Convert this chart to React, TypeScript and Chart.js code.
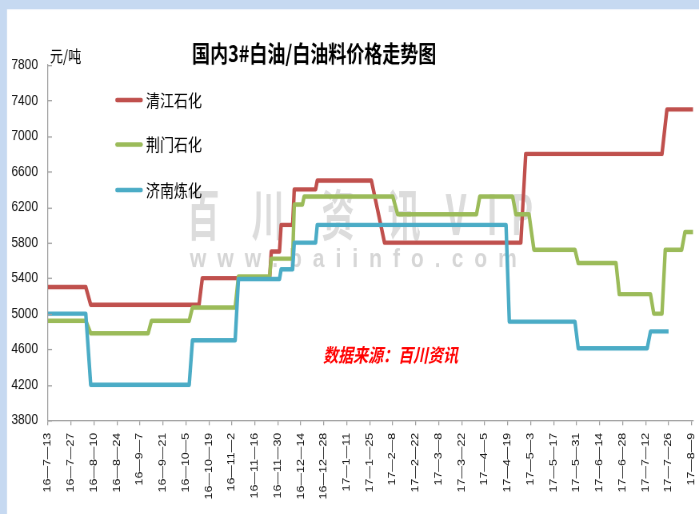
import React, { useEffect, useRef } from 'react';
import { Chart, registerables } from 'chart.js';

Chart.register(...registerables);

// ---------- data ----------
const tickLabels = [
  '16—7—13', '16—7—27', '16—8—10', '16—8—24', '16—9—7', '16—9—21', '16—10—5', '16—10—19',
  '16—11—2', '16—11—16', '16—11—30', '16—12—14', '16—12—28', '17—1—11', '17—1—25', '17—2—8',
  '17—2—22', '17—3—8', '17—3—22', '17—4—5', '17—4—19', '17—5—3', '17—5—17', '17—5—31',
  '17—6—14', '17—6—28', '17—7—12', '17—7—26', '17—8—9',
];

const seriesNames = ['清江石化', '荆门石化', '济南炼化'];
const seriesColors = ['#c0504d', '#9bbb59', '#4bacc6'];

const qingjiangDates = [
  '16-7-13', '16-8-5', '16-8-8', '16-10-13', '16-10-15', '16-11-25', '16-11-26', '16-12-1',
  '16-12-2', '16-12-9', '16-12-10', '16-12-23', '16-12-24', '17-1-26', '17-2-3', '17-4-27',
  '17-4-30', '17-7-22', '17-7-25', '17-8-10',
];
const qingjiangValues = [
  5300, 5300, 5100, 5100, 5400, 5400, 5700, 5700, 6000, 6000, 6400, 6400, 6500, 6500, 5800, 5800,
  6800, 6800, 7300, 7300,
];

const jingmenDates = [
  '16-7-13', '16-8-5', '16-8-8', '16-9-12', '16-9-14', '16-10-7', '16-10-9', '16-11-4',
  '16-11-6', '16-11-25', '16-11-26', '16-12-9', '16-12-10', '16-12-15', '16-12-16', '17-2-8',
  '17-2-11', '17-3-31', '17-4-2', '17-4-22', '17-4-24', '17-5-2', '17-5-5', '17-5-30',
  '17-6-1', '17-6-24', '17-6-26', '17-7-15', '17-7-17', '17-7-22', '17-7-24', '17-8-3',
  '17-8-5', '17-8-10',
];
const jingmenValues = [
  4920, 4920, 4780, 4780, 4920, 4920, 5070, 5070, 5420, 5420, 5620, 5620, 6230, 6230, 6320, 6320,
  6120, 6120, 6320, 6320, 6120, 6120, 5720, 5720, 5570, 5570, 5220, 5220, 5000, 5000, 5720, 5720,
  5920, 5920,
];

const jinanDates = [
  '16-7-13', '16-8-5', '16-8-8', '16-10-7', '16-10-9', '16-11-4', '16-11-6', '16-12-1',
  '16-12-2', '16-12-9', '16-12-10', '16-12-23', '16-12-24', '17-4-18', '17-4-20', '17-5-30',
  '17-6-1', '17-7-13', '17-7-15', '17-7-26',
];
const jinanValues = [
  5000, 5000, 4200, 4200, 4700, 4700, 5390, 5390, 5500, 5500, 5800, 5800, 6000, 6000, 4910, 4910,
  4610, 4610, 4800, 4800,
];

const yMin = 3800;
const yMax = 7800;
const yStep = 400;

// ---------- helpers ----------
const W = 699;
const H = 411;
const K = 514.0001 / 411;
const ORIGIN = Date.UTC(2016, 6, 13);

function dayOf(s: string): number {
  const [y, m, d] = s.split(/[-—]/).map(Number);
  return Math.round((Date.UTC(2000 + y, m - 1, d) - ORIGIN) / 86400000);
}

const tickDays = tickLabels.map(dayOf);
const xMax = dayOf('17-8-10');

function points(dates: string[], values: number[]) {
  return dates.map((d, i) => ({ x: dayOf(d), y: values[i] }));
}

const seriesData = [
  points(qingjiangDates, qingjiangValues),
  points(jingmenDates, jingmenValues),
  points(jinanDates, jinanValues),
];

const CJK = '"Noto Sans CJK SC", "Noto Sans", sans-serif';

function drawSpaced(ctx: CanvasRenderingContext2D, text: string, x: number, y: number, spacing: number) {
  let cx = x;
  for (const ch of text) {
    ctx.fillText(ch, cx, y);
    cx += ctx.measureText(ch).width + spacing;
  }
}

const decor = {
  id: 'decor',
  beforeDraw(chart: any) {
    const { ctx, width, height } = chart;
    ctx.save();
    ctx.fillStyle = '#ffffff';
    ctx.fillRect(0, 0, width, height);
    ctx.fillStyle = '#c6d9f1';
    ctx.fillRect(0, 0, width, 7.4);
    ctx.fillRect(0, 0, 7, height);
    ctx.restore();
  },
  beforeDatasetsDraw(chart: any) {
    const { ctx } = chart;
    ctx.save();
    ctx.fillStyle = '#dcdcdc';
    ctx.textAlign = 'center';
    ctx.textBaseline = 'middle';
    ctx.font = `bold 44px ${CJK}`;
    const marks: [string, number][] = [
      ['百', 203], ['川', 268], ['资', 338], ['讯', 404], ['V', 456], ['I', 492], ['P', 522],
    ];
    for (const [ch, cx] of marks) {
      ctx.save();
      ctx.translate(cx, 171);
      ctx.scale(0.75, 1);
      ctx.fillText(ch, 0, 0);
      ctx.restore();
    }
    ctx.fillStyle = '#d6d6d6';
    ctx.textAlign = 'left';
    ctx.font = 'bold 21px "Liberation Sans", Arial, sans-serif';
    drawSpaced(ctx, 'www.baiinfo.com', 190, 208, 11);
    ctx.restore();
  },
  afterDraw(chart: any) {
    const { ctx, chartArea, scales } = chart;
    ctx.save();
    // inner ticks on y axis
    ctx.strokeStyle = '#a0a0a0';
    ctx.lineWidth = 1;
    for (const t of scales.y.ticks) {
      const py = Math.round(scales.y.getPixelForValue(t.value)) + 0.5;
      ctx.beginPath();
      ctx.moveTo(chartArea.left, py);
      ctx.lineTo(chartArea.left + 4, py);
      ctx.stroke();
    }
    // title
    ctx.fillStyle = '#000';
    ctx.textBaseline = 'middle';
    ctx.textAlign = 'left';
    ctx.font = `bold 18px ${CJK}`;
    ctx.fillText('国内3#白油/白油料价格走势图', 192, 43);
    // unit
    ctx.font = `13px ${CJK}`;
    ctx.fillText('元/吨', 50, 45);
    // legend
    const legendY = [80, 115.5, 152];
    chart.data.datasets.forEach((ds: any, i: number) => {
      ctx.strokeStyle = ds.borderColor;
      ctx.lineWidth = 3.6;
      ctx.lineCap = 'round';
      ctx.beginPath();
      ctx.moveTo(117, legendY[i]);
      ctx.lineTo(141, legendY[i]);
      ctx.stroke();
      ctx.fillStyle = '#000';
      ctx.font = `14px ${CJK}`;
      ctx.fillText(ds.label, 146, legendY[i]);
    });
    // source
    ctx.fillStyle = '#ff0000';
    ctx.font = `italic bold 15px ${CJK}`;
    ctx.fillText('数据来源：百川资讯', 323, 284);
    ctx.restore();
  },
};

export default function App() {
  const ref = useRef<HTMLCanvasElement>(null);
  useEffect(() => {
    if (!ref.current) return;
    const chart = new Chart(ref.current, {
      type: 'line',
      data: {
        datasets: seriesNames.map((name, i) => ({
          label: name,
          data: seriesData[i],
          borderColor: seriesColors[i],
          backgroundColor: seriesColors[i],
          borderWidth: 3.5,
          pointRadius: 0,
          tension: 0,
          borderJoinStyle: 'round' as const,
          order: 2 - i,
        })),
      },
      options: {
        responsive: false,
        animation: false,
        devicePixelRatio: K,
        layout: { padding: { top: 52, right: 6, bottom: 0, left: 0 } },
        plugins: {
          legend: { display: false },
          title: { display: false },
          tooltip: { enabled: false },
        },
        scales: {
          x: {
            type: 'linear',
            min: 0,
            max: xMax,
            afterBuildTicks: (scale: any) => {
              scale.ticks = tickDays.map((v) => ({ value: v }));
            },
            afterFit: (scale: any) => {
              scale.height = 75;
              scale.paddingLeft = 0;
              scale.paddingRight = 0;
            },
            grid: { drawOnChartArea: false, drawTicks: true, tickLength: 4, color: '#a0a0a0' },
            border: { display: true, color: '#a0a0a0' },
            ticks: {
              autoSkip: false,
              minRotation: 90,
              maxRotation: 90,
              padding: 6,
              color: '#111',
              font: { family: '"Liberation Sans", Arial, sans-serif', size: 10 },
              callback: (_v: any, i: number) => tickLabels[i],
            },
          },
          y: {
            min: yMin,
            max: yMax,
            afterFit: (scale: any) => {
              scale.width = 48;
            },
            grid: { drawOnChartArea: false, drawTicks: false },
            border: { display: true, color: '#a0a0a0' },
            ticks: {
              stepSize: yStep,
              padding: 10,
              color: '#111',
              font: { family: '"Liberation Sans", Arial, sans-serif', size: 12 },
              callback: (v: any) => String(v),
            },
          },
        },
      },
      plugins: [decor],
    } as any);
    return () => chart.destroy();
  }, []);

  return (
    <div style={{ position: 'fixed', left: 0, top: 0, width: W, height: 514, overflow: 'hidden', background: '#fff' }}>
      <canvas
        ref={ref}
        width={W}
        height={H}
        style={{ display: 'block', transform: `scaleY(${K})`, transformOrigin: '0 0' }}
      />
    </div>
  );
}
